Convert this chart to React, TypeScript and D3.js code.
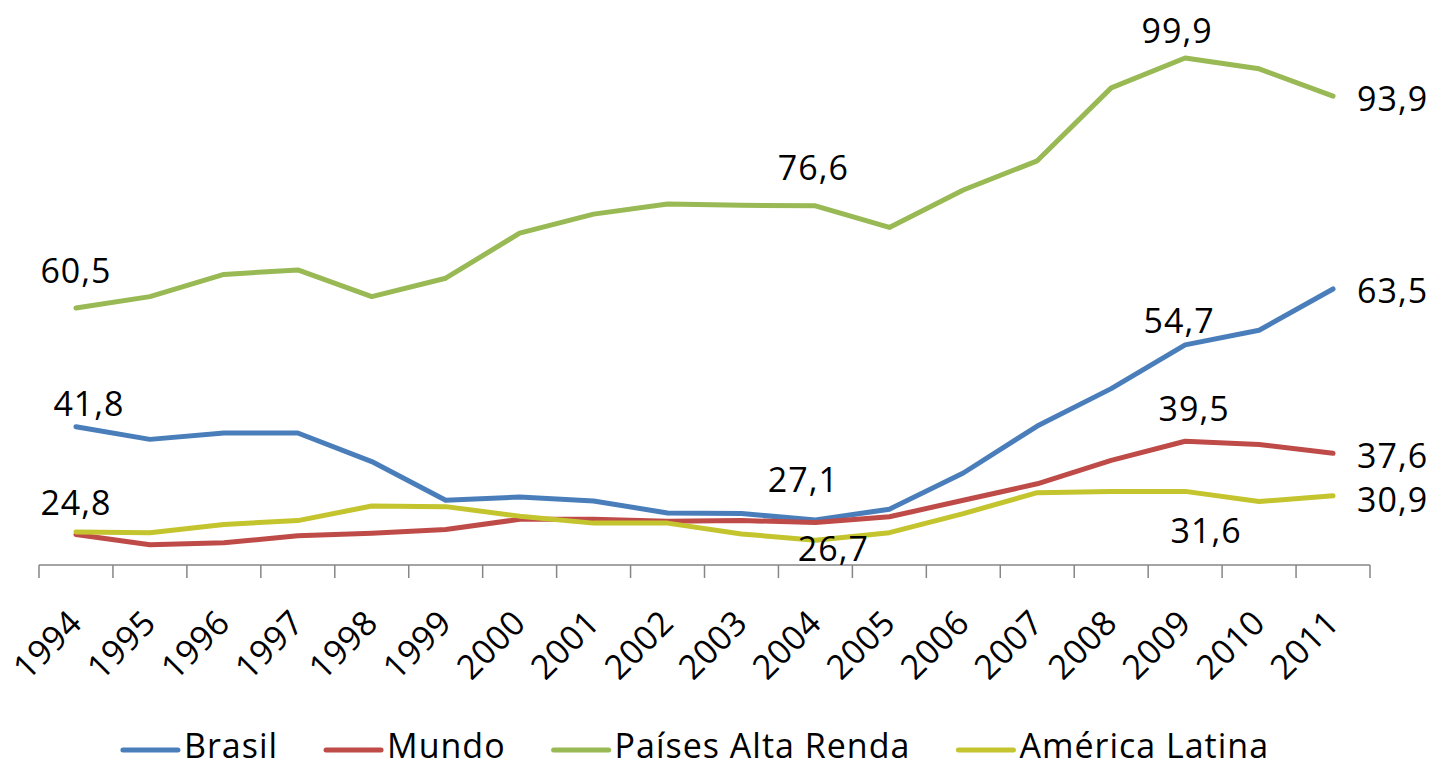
import React, { useEffect, useRef } from 'react';
import * as d3 from 'd3';

const years = ['1994', '1995', '1996', '1997', '1998', '1999', '2000', '2001', '2002', '2003', '2004', '2005', '2006', '2007', '2008', '2009', '2010', '2011'];

const brasil = [41.8, 39.8, 40.8, 40.8, 36.3, 30.2, 30.7, 30.1, 28.2, 28.1, 27.1, 28.8, 34.5, 41.9, 47.8, 54.7, 57.0, 63.5];
const mundo = [24.8, 23.2, 23.5, 24.6, 25.0, 25.6, 27.2, 27.2, 26.9, 27.0, 26.7, 27.6, 30.2, 32.8, 36.5, 39.5, 39.0, 37.6];
const altaRenda = [60.5, 62.3, 65.8, 66.5, 62.3, 65.2, 72.3, 75.3, 76.9, 76.7, 76.6, 73.2, 79.1, 83.7, 95.2, 99.9, 98.2, 93.9];
const americaLatina = [25.2, 25.1, 26.4, 27.0, 29.3, 29.2, 27.7, 26.6, 26.6, 24.9, 23.9, 25.1, 28.1, 31.4, 31.6, 31.6, 30.0, 30.9];

const seriesNames = ['Brasil', 'Mundo', 'Países Alta Renda', 'América Latina'];
const seriesValues = [brasil, mundo, altaRenda, americaLatina];
const seriesColors = ['#4A7EBB', '#BE4B48', '#98B954', '#C4C42E'];

// which points get a data label: [series index, year index]
const labelledPoints = [
  [2, 0], [0, 0], [1, 0],
  [2, 10], [0, 10], [1, 10],
  [2, 15], [0, 15], [1, 15], [3, 15],
  [2, 17], [0, 17], [1, 17], [3, 17],
];
// label placement relative to the point (dx, dy to baseline, anchor)
const labelPlacement = [
  [0, -25, 'middle'], [13, -11, 'middle'], [0, -20, 'middle'],
  [-2, -26, 'middle'], [-12, -28, 'middle'], [18, 39, 'middle'],
  [-8, -15, 'middle'], [-6, -12, 'middle'], [9, -20, 'middle'], [21, 52, 'middle'],
  [24, 15, 'start'], [24, 14, 'start'], [24, 15, 'start'], [24, 16, 'start'],
];

const FONT = "'Open Sans', sans-serif";

export default function App() {
  const svgRef = useRef<SVGSVGElement>(null);

  useEffect(() => {
    const width = 1437;
    const height = 767;
    const svg = d3.select(svgRef.current);
    svg.selectAll('*').remove();

    const x = d3.scaleBand().domain(years).range([39, 1370]).padding(0);
    const cx = (yr: string) => (x(yr) as number) + x.bandwidth() / 2;
    const y = d3.scaleLinear().domain([20, 100]).range([565, 57.4]);

    svg.append('rect').attr('width', width).attr('height', height).attr('fill', '#fff');

    // category axis
    const axisY = y(20);
    svg.append('line')
      .attr('x1', 39).attr('x2', 1370)
      .attr('y1', axisY).attr('y2', axisY)
      .attr('stroke', '#868686').attr('stroke-width', 1.5);

    const boundaries = years.map(yr => x(yr) as number).concat([x.range()[1]]);
    svg.selectAll('line.tick')
      .data(boundaries)
      .enter()
      .append('line')
      .attr('class', 'tick')
      .attr('x1', d => d).attr('x2', d => d)
      .attr('y1', axisY).attr('y2', axisY + 13)
      .attr('stroke', '#868686').attr('stroke-width', 1.5);

    svg.selectAll('text.year')
      .data(years)
      .enter()
      .append('text')
      .attr('class', 'year')
      .attr('transform', d => `translate(${cx(d) + 8},${axisY + 60}) rotate(-45)`)
      .attr('text-anchor', 'end')
      .style('font-family', FONT)
      .style('font-size', '34px')
      .style('letter-spacing', '0.5px')
      .style('fill', '#000')
      .text(d => d);

    // lines
    const line = d3.line<number>()
      .x((d, i) => cx(years[i]))
      .y(d => y(d));

    seriesValues.forEach((vals, s) => {
      svg.append('path')
        .datum(vals)
        .attr('d', line)
        .attr('fill', 'none')
        .attr('stroke', seriesColors[s])
        .attr('stroke-width', 5)
        .attr('stroke-linejoin', 'round')
        .attr('stroke-linecap', 'round');
    });

    // data labels
    labelledPoints.forEach(([s, i], k) => {
      const [dx, dy, anchor] = labelPlacement[k];
      const v = seriesValues[s][i];
      svg.append('text')
        .attr('x', cx(years[i]) + (dx as number))
        .attr('y', y(v) + (dy as number))
        .attr('text-anchor', anchor as string)
        .style('font-family', FONT)
        .style('font-size', '34px')
        .style('letter-spacing', '1px')
        .style('fill', '#000')
        .text(v.toFixed(1).replace('.', ','));
    });

    // legend
    const legend = svg.append('g');
    let lx = 0;
    seriesNames.forEach((name, s) => {
      const g = legend.append('g').attr('transform', `translate(${lx},0)`);
      g.append('line')
        .attr('x1', 0).attr('x2', 55)
        .attr('y1', 750).attr('y2', 750)
        .attr('stroke', seriesColors[s])
        .attr('stroke-width', 5)
        .attr('stroke-linecap', 'round');
      const t = g.append('text')
        .attr('x', 61)
        .attr('y', 758)
        .style('font-family', FONT)
        .style('font-size', '34px')
        .style('letter-spacing', '1px')
        .style('fill', '#000')
        .text(name);
      const w = (t.node() as SVGTextElement).getComputedTextLength();
      lx += 61 + w + 48;
    });
    const legendWidth = lx - 48;
    legend.attr('transform', `translate(${696 - legendWidth / 2},0)`);
  }, []);

  return (
    <svg
      ref={svgRef}
      width={1437}
      height={767}
      style={{ position: 'absolute', left: 0, top: 0, display: 'block' }}
    />
  );
}
